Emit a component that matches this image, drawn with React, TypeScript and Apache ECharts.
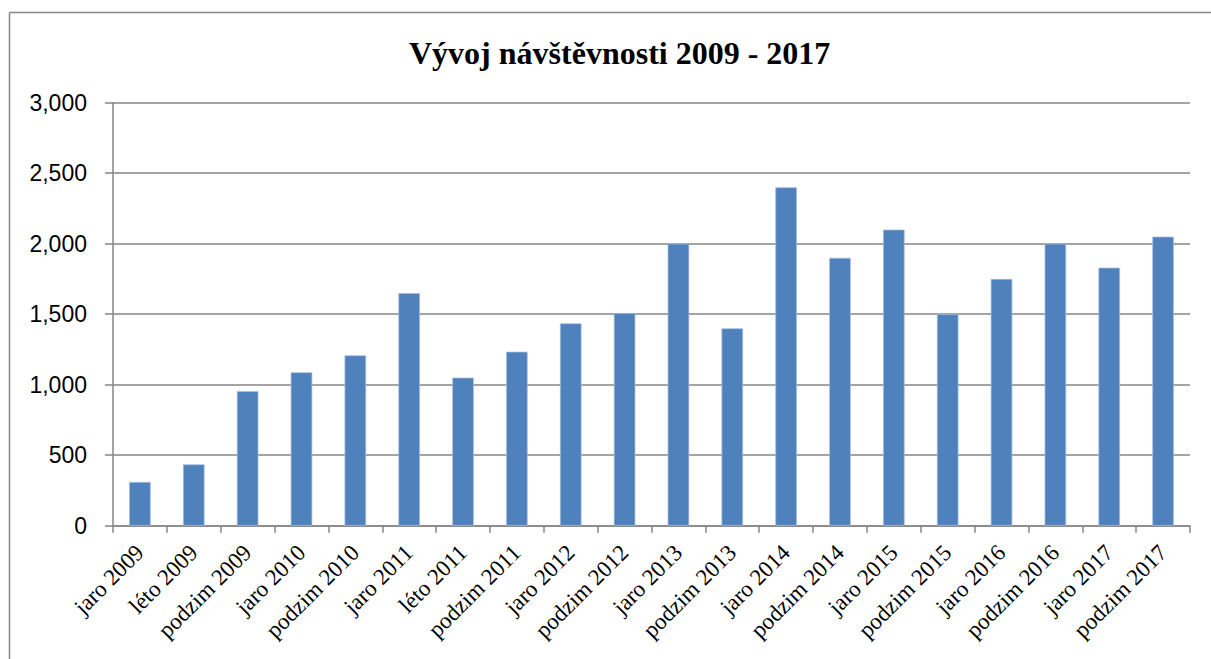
import React, { useEffect, useRef } from "react";
import * as echarts from "echarts";

const categories = [
  "jaro 2009", "léto 2009", "podzim 2009", "jaro 2010", "podzim 2010",
  "jaro 2011", "léto 2011", "podzim 2011", "jaro 2012", "podzim 2012",
  "jaro 2013", "podzim 2013", "jaro 2014", "podzim 2014", "jaro 2015",
  "podzim 2015", "jaro 2016", "podzim 2016", "jaro 2017", "podzim 2017",
];
const visitors = [
  310, 435, 955, 1088, 1208,
  1650, 1050, 1234, 1435, 1508,
  2000, 1400, 2400, 1900, 2100,
  1500, 1750, 2000, 1830, 2050,
];
const yTicks = { min: 0, max: 3000, interval: 500 };
const titleText = "Vývoj návštěvnosti 2009 - 2017";

const GRAY = "#868686";

export default function App() {
  const ref = useRef<HTMLDivElement>(null);
  useEffect(() => {
    if (!ref.current) return;
    const chart = echarts.init(ref.current, undefined, { renderer: "svg" });
    chart.setOption({
      animation: false,
      backgroundColor: "#ffffff",
      title: {
        text: titleText,
        left: 404,
        top: 32,
        textStyle: {
          fontFamily: "Liberation Serif",
          fontWeight: "bold",
          fontSize: 32,
          color: "#000",
        },
      },
      graphic: [
        {
          type: "line",
          shape: { x1: 9.5, y1: 12.5, x2: 1211, y2: 12.5 },
          style: { stroke: GRAY, lineWidth: 1.5 },
          silent: true,
        },
        {
          type: "line",
          shape: { x1: 9.5, y1: 12.5, x2: 9.5, y2: 659 },
          style: { stroke: GRAY, lineWidth: 1.5 },
          silent: true,
        },
      ],
      grid: { left: 113, right: 21, top: 102.7, bottom: 133.3, containLabel: false },
      xAxis: {
        type: "category",
        data: categories,
        axisLine: { show: true, lineStyle: { color: GRAY, width: 1.5 } },
        axisTick: { show: true, length: 7, lineStyle: { color: GRAY, width: 1.5 } },
        axisLabel: {
          rotate: 45,
          interval: 0,
          margin: 23,
          fontFamily: "Liberation Serif",
          fontSize: 23,
          color: "#000",
        },
        splitLine: { show: false },
      },
      yAxis: {
        type: "value",
        min: yTicks.min,
        max: yTicks.max,
        interval: yTicks.interval,
        axisLine: { show: true, lineStyle: { color: GRAY, width: 1.5 } },
        axisTick: { show: true, length: 8, lineStyle: { color: GRAY, width: 1.5 } },
        axisLabel: {
          margin: 26,
          fontFamily: "Liberation Sans",
          fontSize: 23,
          color: "#000",
          formatter: (v: number) => v.toLocaleString("en-US"),
        },
        splitLine: { show: true, lineStyle: { color: GRAY, width: 1.5 } },
      },
      series: [
        {
          type: "bar",
          data: visitors,
          barWidth: "40%",
          itemStyle: { color: "#4F81BD", borderColor: "#a7bfe0", borderWidth: 0.7 },
        },
      ],
    });
    return () => chart.dispose();
  }, []);
  return (
    <div
      ref={ref}
      style={{ position: "fixed", left: 0, top: 0, width: 1211, height: 659 }}
    />
  );
}
